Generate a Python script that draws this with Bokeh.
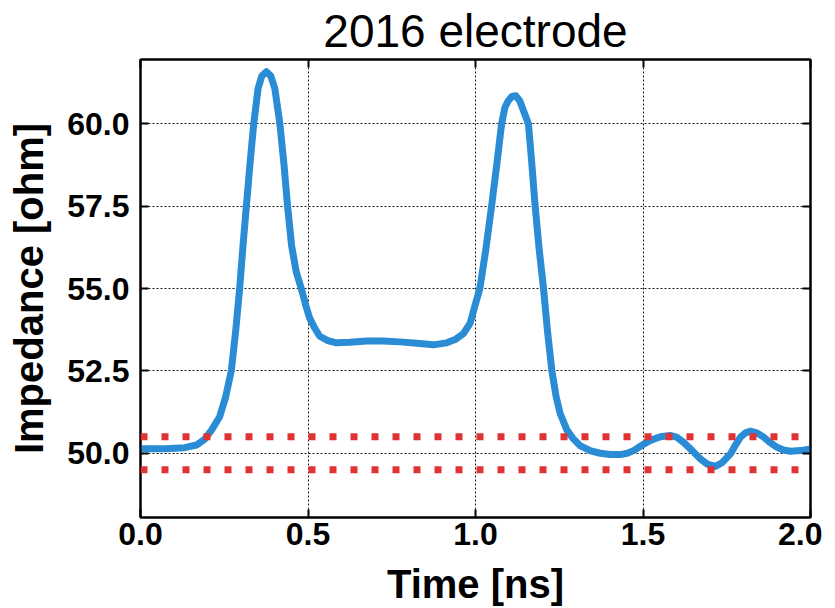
from bokeh.plotting import figure
from bokeh.models import Span, LinearAxis, Range1d, FixedTicker, CustomJSTickFormatter
from bokeh.embed import file_html
from bokeh.resources import INLINE

# ---- data ----
time_ns = [0.000, 0.072, 0.132, 0.167, 0.191, 0.212, 0.236, 0.254, 0.271, 0.284,
           0.296, 0.306, 0.316, 0.327, 0.338, 0.351, 0.362, 0.376, 0.389, 0.401,
           0.416, 0.428, 0.439, 0.451, 0.465, 0.480, 0.493, 0.505, 0.520, 0.535,
           0.559, 0.585, 0.625, 0.675, 0.723, 0.774, 0.825, 0.874, 0.914, 0.939,
           0.964, 0.984, 0.999, 1.013, 1.031, 1.048, 1.064, 1.078, 1.088, 1.098,
           1.109, 1.120, 1.132, 1.143, 1.158, 1.168, 1.178, 1.190, 1.203, 1.215,
           1.228, 1.241, 1.253, 1.273, 1.291, 1.312, 1.342, 1.372, 1.402, 1.432,
           1.453, 1.472, 1.498, 1.522, 1.552, 1.581, 1.602, 1.621, 1.647, 1.671,
           1.692, 1.716, 1.737, 1.761, 1.776, 1.791, 1.806, 1.821, 1.839, 1.860,
           1.880, 1.900, 1.919, 1.940, 1.970, 2.000]
impedance = [50.14, 50.14, 50.17, 50.25, 50.42, 50.70, 51.10, 51.70, 52.50, 53.70,
             55.00, 56.30, 57.50, 58.80, 60.00, 61.07, 61.45, 61.58, 61.45, 61.07,
             60.00, 58.80, 57.50, 56.30, 55.50, 55.00, 54.50, 54.10, 53.80, 53.55,
             53.42, 53.35, 53.37, 53.41, 53.41, 53.38, 53.34, 53.29, 53.35, 53.45,
             53.63, 53.95, 54.50, 55.00, 56.20, 57.50, 58.80, 60.00, 60.50, 60.70,
             60.83, 60.85, 60.70, 60.40, 60.00, 58.80, 57.50, 56.20, 55.00, 53.70,
             52.50, 51.70, 51.20, 50.70, 50.45, 50.23, 50.08, 50.00, 49.96, 49.96,
             50.00, 50.08, 50.25, 50.39, 50.50, 50.54, 50.48, 50.33, 50.08, 49.83,
             49.67, 49.60, 49.72, 49.98, 50.25, 50.49, 50.62, 50.67, 50.62, 50.49,
             50.32, 50.18, 50.10, 50.06, 50.08, 50.13]
tolerance_levels = [50.5, 49.5]
x_ticks = [0.0, 0.5, 1.0, 1.5, 2.0]
y_ticks = [50.0, 52.5, 55.0, 57.5, 60.0]

FONT = "Liberation Sans"

p = figure(width=822, height=608, output_backend="svg", toolbar_location=None,
           x_range=Range1d(0, 2), y_range=Range1d(48.05, 61.95),
           min_border_left=140, min_border_right=12, min_border_top=58,
           min_border_bottom=91, title="2016 electrode")
p.title.text_font = FONT
p.title.text_font_size = "46px"
p.title.text_font_style = "normal"
p.title.align = "center"
p.title.text_color = "black"
p.title.standoff = 5

p.outline_line_color = "black"
p.outline_line_width = 2

p.line(time_ns, impedance, line_color="#2b8cd6", line_width=7,
       line_join="round", line_cap="round")

for lvl in tolerance_levels:
    p.add_layout(Span(location=lvl, dimension="width", line_color="#e03333",
                      line_width=7, line_dash="7 14"))

for ax in [p.xaxis[0], p.yaxis[0]]:
    ax.major_tick_in = 8
    ax.major_tick_out = 0
    ax.minor_tick_in = 0
    ax.minor_tick_out = 0
    ax.axis_line_width = 2
    ax.axis_line_color = "black"
    ax.major_tick_line_width = 2
    ax.major_label_text_font = FONT
    ax.major_label_text_font_style = "bold"
    ax.major_label_text_font_size = "32px"
    ax.major_label_text_color = "black"
    ax.axis_label_text_font = FONT
    ax.axis_label_text_font_style = "bold"
    ax.axis_label_text_font_size = "40px"
    ax.axis_label_text_color = "black"

p.xaxis.ticker = FixedTicker(ticks=x_ticks)
p.yaxis.ticker = FixedTicker(ticks=y_ticks)
p.xaxis.major_label_overrides = {t: f"{t:.1f}" for t in x_ticks}
p.yaxis.major_label_overrides = {t: f"{t:.1f}" for t in y_ticks}
p.xaxis.axis_label = "Time [ns]"
p.yaxis.axis_label = "Impedance [ohm]"
p.xaxis.major_label_standoff = 5
p.yaxis.major_label_standoff = 11
p.xaxis.axis_label_standoff = 14
p.yaxis.axis_label_standoff = 13

for side, ticks in (("above", x_ticks), ("right", y_ticks)):
    ax = LinearAxis(ticker=FixedTicker(ticks=ticks),
                    formatter=CustomJSTickFormatter(code="return ''"))
    ax.major_tick_in = 8
    ax.major_tick_out = 0
    ax.minor_tick_in = 0
    ax.minor_tick_out = 0
    ax.axis_line_width = 2
    ax.major_tick_line_width = 2
    ax.major_label_text_font_size = "1px"
    ax.major_label_standoff = 0
    p.add_layout(ax, side)

p.xgrid.ticker = FixedTicker(ticks=x_ticks)
p.ygrid.ticker = FixedTicker(ticks=y_ticks)
for g in (p.xgrid, p.ygrid):
    g.grid_line_color = "black"
    g.grid_line_dash = "2 2"
    g.grid_line_width = 1
    g.grid_line_alpha = 0.9

open("out.html", "w").write(file_html(p, INLINE))
